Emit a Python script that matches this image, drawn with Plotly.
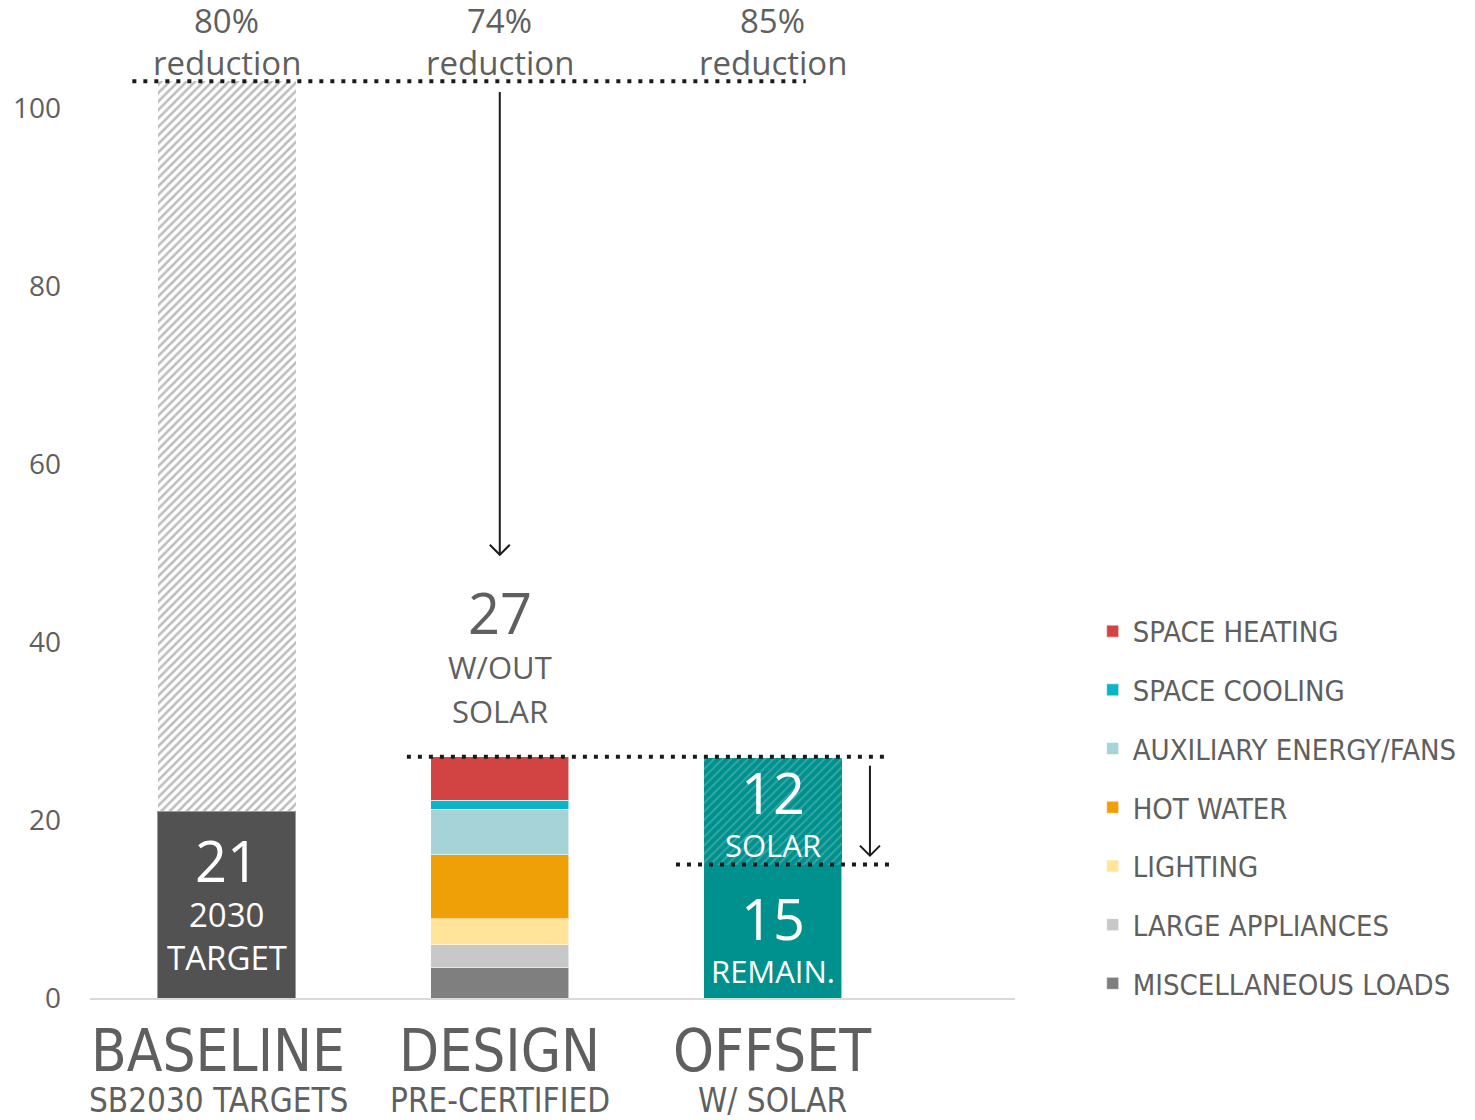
import plotly.graph_objects as go

# ---- data ----------------------------------------------------------------
categories = ["BASELINE", "DESIGN", "OFFSET"]
subtitles = ["SB2030 TARGETS", "PRE-CERTIFIED", "W/ SOLAR"]
reduction_labels = ["80%", "74%", "85%"]

baseline_total = 103.0
baseline_target = 21.0

end_uses = [
    "MISCELLANEOUS LOADS", "LARGE APPLIANCES", "LIGHTING", "HOT WATER",
    "AUXILIARY ENERGY/FANS", "SPACE COOLING", "SPACE HEATING",
]
design_values = [3.4, 2.6, 2.9, 7.2, 5.1, 1.0, 4.9]
end_use_colors = ["#7f7f7f", "#c8c8c8", "#ffe49a", "#f0a007",
                  "#a5d3d8", "#0bb5c9", "#d24343"]

offset_remaining = 15.0
offset_solar = 12.0

y_ticks = [0, 20, 40, 60, 80, 100]

design_total = sum(design_values)

# ---- styling -------------------------------------------------------------
TXT = "#5f5f5f"
MAIN_FONT = "Open Sans"
NARROW_FONT = "DejaVu Sans Condensed"
TEAL = "#00918e"
BAR_W = 0.505
EDGE = dict(width=1, color="rgba(255,255,255,0.55)")

fig = go.Figure()

# Baseline: 2030 target plus hatched remainder up to the baseline
fig.add_trace(go.Bar(
    x=[categories[0]], y=[baseline_target], width=BAR_W,
    marker=dict(color="#525252", line=dict(width=1, color="#9a9a9a")),
    showlegend=False, hoverinfo="skip"))
fig.add_trace(go.Bar(
    x=[categories[0]], y=[baseline_total - baseline_target], width=BAR_W,
    marker=dict(color="white", line=dict(width=0),
                pattern=dict(shape="/", fgcolor="#7a7a7a", bgcolor="white",
                             size=6, solidity=0.42)),
    showlegend=False, hoverinfo="skip"))

# Design: stacked end uses (legend lists them top of the stack first)
n_uses = len(end_uses)
for k, (name, val, col) in enumerate(zip(end_uses, design_values,
                                         end_use_colors)):
    fig.add_trace(go.Bar(
        x=[categories[1]], y=[val], width=BAR_W, name=name,
        legendgroup=name, legendrank=n_uses - k,
        marker=dict(color=col, line=EDGE)))

# Offset: remaining energy plus hatched solar portion
fig.add_trace(go.Bar(
    x=[categories[2]], y=[offset_remaining], width=BAR_W,
    marker=dict(color=TEAL, line=EDGE), showlegend=False, hoverinfo="skip"))
fig.add_trace(go.Bar(
    x=[categories[2]], y=[offset_solar], width=BAR_W,
    marker=dict(color=TEAL, line=dict(width=0),
                pattern=dict(shape="/", fgcolor="rgba(255,255,255,0.45)",
                             bgcolor=TEAL, size=6, solidity=0.3)),
    showlegend=False, hoverinfo="skip"))

# ---- reference lines -----------------------------------------------------
dots = dict(color="#1a1a1a", width=4, dash="4px,7px")
fig.add_shape(type="line", x0=-0.345, x1=2.12, y0=baseline_total,
              y1=baseline_total, line=dots)
fig.add_shape(type="line", x0=0.66, x1=2.43, y0=design_total,
              y1=design_total, line=dots)
fig.add_shape(type="line", x0=1.645, x1=2.43, y0=offset_remaining,
              y1=offset_remaining, line=dots)


def down_arrow(x, y_from, y_to):
    fig.add_shape(type="line", x0=x, x1=x, y0=y_from, y1=y_to,
                  line=dict(color="#1a1a1a", width=2))
    fig.add_shape(type="path", xsizemode="pixel", ysizemode="pixel",
                  xanchor=x, yanchor=y_to,
                  path="M -10 10 L 0 0 L 10 10",
                  line=dict(color="#1a1a1a", width=2))


down_arrow(1, baseline_total - 1.2, 49.8)
down_arrow(2.355, design_total - 1.0, offset_remaining + 1.0)

# ---- text ----------------------------------------------------------------
def label(x, y, text, size, color=TXT, font=MAIN_FONT, yref="y"):
    fig.add_annotation(x=x, y=y, yref=yref, text=text, showarrow=False,
                       font=dict(family=font, size=size, color=color),
                       xanchor="center", yanchor="middle")


for i, pct in enumerate(reduction_labels):
    label(i, 109.8, pct, 33)
    label(i, 105.1, "reduction", 33)

label(1, 43.4, f"{round(design_total)}", 56)
label(1, 37.2, "W/OUT", 31)
label(1, 32.2, "SOLAR", 31)

label(0, 15.5, f"{round(baseline_target)}", 56, "white")
label(0, 9.4, "2030", 33, "white")
label(0, 4.5, "TARGET", 33, "white")

label(2, 23.1, f"{round(offset_solar)}", 56, "white")
label(2, 17.2, "SOLAR", 31, "white")
label(2, 9.0, f"{round(offset_remaining)}", 56, "white")
label(2, 3.0, "REMAIN.", 31, "white")

cat_x = [-0.03, 1.0, 2.0]
for xc, cat, sub in zip(cat_x, categories, subtitles):
    label(xc, -0.053, cat, 58, font=NARROW_FONT, yref="paper")
    label(xc, -0.103, sub, 33, font=NARROW_FONT, yref="paper")

# ---- layout --------------------------------------------------------------
fig.update_layout(
    width=1475, height=1120,
    margin=dict(l=90, r=460, t=0, b=122, autoexpand=False),
    paper_bgcolor="white", plot_bgcolor="white",
    barmode="stack", bargap=0.5,
    showlegend=True,
    legend=dict(
        traceorder="grouped", tracegroupgap=18,
        x=1.084, xanchor="left", y=0.393, yanchor="top",
        font=dict(family=NARROW_FONT, size=29, color=TXT),
        itemclick=False, itemdoubleclick=False,
    ),
    xaxis=dict(
        range=[-0.5, 2.886], showticklabels=False, ticks="",
        showline=True, linecolor="#d9d9d9", linewidth=2,
        showgrid=False, zeroline=False, fixedrange=True,
    ),
    yaxis=dict(
        range=[0, 998 / 8.9], tickvals=y_ticks, showgrid=False,
        zeroline=False, showline=False, ticks="",
        ticklabelstandoff=28,
        tickfont=dict(family=MAIN_FONT, size=28, color=TXT),
        fixedrange=True,
    ),
)

fig.write_html("out.html")
